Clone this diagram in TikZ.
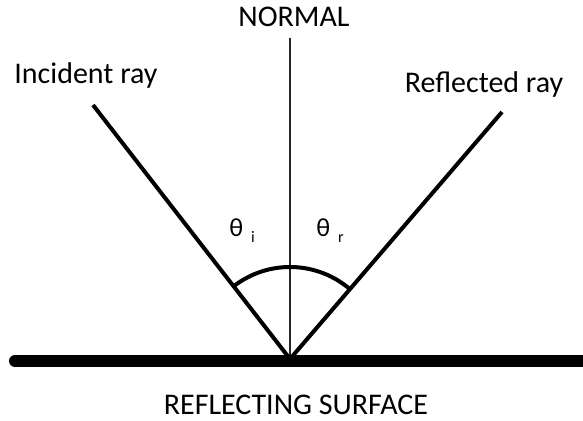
\documentclass[tikz,border=0pt]{standalone}
\usepackage{fontspec}
\setmainfont{Carlito}
\usetikzlibrary{positioning, calc}

\begin{document}
\begin{tikzpicture}[
  x=0.5pt, y=0.5pt,
  label/.style={font=\fontsize{15}{18}\selectfont, inner sep=0pt, anchor=base},
  angl/.style={font=\fontsize{13}{15}\selectfont, inner sep=0pt},
  ray/.style={line width=2pt},
  normalline/.style={line width=0.8pt, black!85},
  surface/.style={line width=6pt, line cap=round},
  arcline/.style={line width=2pt}
]
\useasboundingbox (0,0) rectangle (583,421);

% Puntos principales
\coordinate (o) at (290,62);
\coordinate (inc) at (93,316);
\coordinate (refl) at (502,309);
\coordinate (ntop) at (290,383);
\coordinate (sl) at (15,60);
\coordinate (sr) at (590,60);

% Superficie y normal
\draw[normalline] (o) -- (ntop);
\draw[surface] (sl) -- (sr);

% Rayos
\draw[ray] (inc) -- (o);
\draw[ray] (refl) -- (o);

% Arco de angulos
\draw[arcline] ($(o)+(128:92)$) arc[start angle=128, end angle=49, radius=92];

% Etiquetas
\node[label] (normal) at (294,394) {NORMAL};
\node[label] (incl) at (86,337) {Incident ray};
\node[label] (refll) at (484,328) {Reflected ray};
\node[label] (surfl) at (296,6) {REFLECTING SURFACE};
\node[angl] (thi) at (242,190) {θ\hspace{4pt}\raisebox{-3pt}{\fontsize{8}{9}\selectfont i}};
\node[angl] (thr) at (330,190) {θ\hspace{4pt}\raisebox{-3pt}{\fontsize{8}{9}\selectfont r}};

\end{tikzpicture}
\end{document}
